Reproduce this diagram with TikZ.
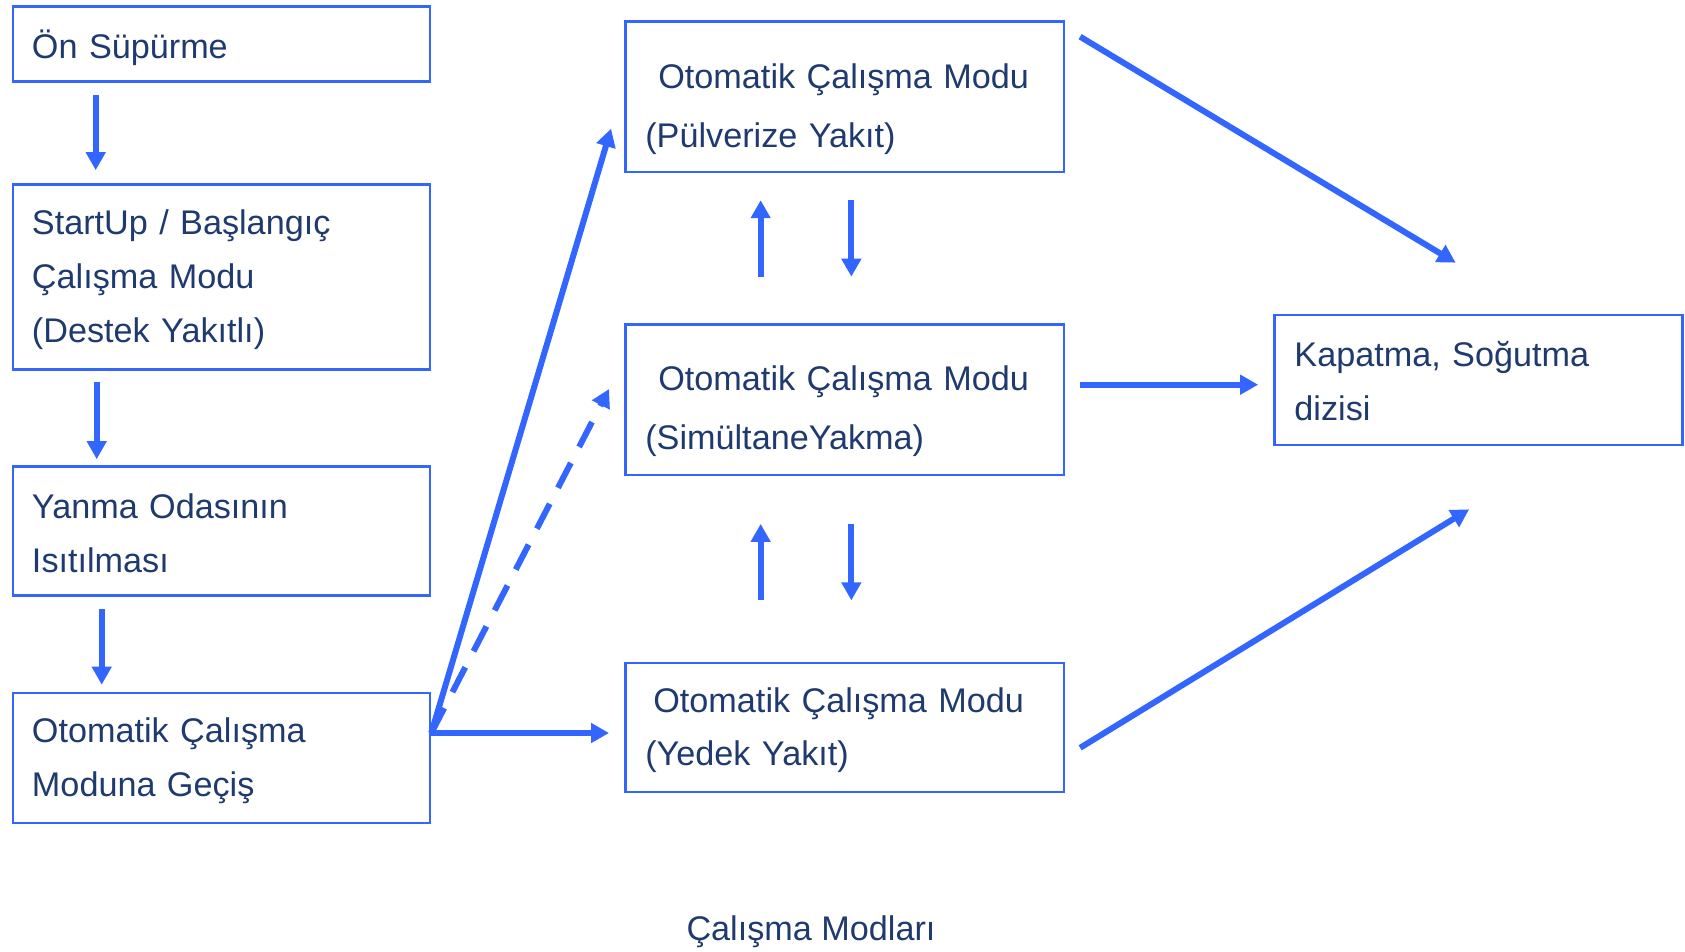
\documentclass[tikz,border=0pt]{standalone}
\usepackage{fontspec}
\setmainfont{Liberation Sans}
\usetikzlibrary{positioning}
\usetikzlibrary{calc}
\usetikzlibrary{arrows.meta}

\definecolor{lineblue}{HTML}{3366FF}
\definecolor{textblue}{HTML}{1F3A6E}

\begin{document}
\begin{tikzpicture}[
x=0.5pt, y=-0.5pt,
font=\fontsize{17.1}{26.9}\selectfont,
every node/.style={text=textblue},
arr/.style={draw=lineblue, line width=3pt, -{Triangle[length=9pt,width=9.5pt]}},
wide/.style={font=\fontsize{17.1}{29.5}\selectfont}
]

\tikzstyle{bx} = [draw=lineblue, line width=1.3pt, align=left, inner xsep=10pt, inner ysep=0pt]
\tikzstyle{lft} = [bx, inner xsep=9.5pt, text width=189.5pt]
\tikzstyle{mid} = [bx, text width=199.25pt]

\useasboundingbox (0,0) rectangle (1685,952);

% left column
\node[lft, minimum height=37.6pt] (pre) at (221.5,44) {\rule{0pt}{18pt}Ön Süpürme};
\node[lft, minimum height=92.5pt] (start) at (221.5,277) {\rule{0pt}{15pt}StartUp / Başlangıç\\Çalışma Modu\\(Destek Yakıtlı)};
\node[lft, minimum height=64.5pt] (heat) at (221.5,531) {\rule{0pt}{14.5pt}Yanma Odasının\\Isıtılması};
\node[lft, minimum height=65pt] (trans) at (221.5,758) {\rule{0pt}{15pt}Otomatik Çalışma\\Moduna Geçiş};

% operating modes
\node[mid, wide, minimum height=75.2pt] (pulv) at (844.6,96.7) {\rule{0pt}{25pt}\hspace*{6.5pt}Otomatik Çalışma Modu\\(Pülverize Yakıt)};
\node[mid, wide, minimum height=75.2pt] (simul) at (844.6,399.7) {\rule{0pt}{23.5pt}\hspace*{6.5pt}Otomatik Çalışma Modu\\(SimültaneYakma)};
\node[mid, minimum height=64.5pt] (spare) at (844.6,727.5) {\rule{0pt}{15pt}\hspace*{4pt}Otomatik Çalışma Modu\\(Yedek Yakıt)};

\node[bx, text width=184.15pt, minimum height=65pt] (stop) at (1478.6,380) {\rule{0pt}{14pt}Kapatma, Soğutma\\dizisi};
\node (cap) at (811,932) {Çalışma Modları};

% sequence
\draw[arr] ($(pre.south west)+(84,12)$) -- ($(start.north west)+(84,-13)$);
\draw[arr] ($(start.south west)+(85,11)$) -- ($(heat.north west)+(85,-6)$);
\draw[arr] ($(heat.south west)+(90,12)$) -- ($(trans.north west)+(90,-7)$);

% switching between modes
\draw[arr] ($(simul.north west)+(136.6,-46.5)$) -- ($(pulv.south west)+(136.6,27)$);
\draw[arr] ($(pulv.south west)+(227.3,27)$) -- ($(simul.north west)+(227.3,-46.5)$);
\draw[arr] ($(spare.north west)+(136.6,-61.3)$) -- ($(simul.south west)+(136.6,47.7)$);
\draw[arr] ($(simul.south west)+(227.3,47.7)$) -- ($(spare.north west)+(227.3,-61.3)$);

% into the modes
\coordinate (fork) at ($(trans.east)+(0,-25)$);
\draw[arr] (fork) -- ($(pulv.west)+(-13,32)$);
\draw[arr, dash pattern=on 14pt off 9pt] (fork) -- ($(simul.west)+(-15,-10.7)$);
\draw[arr] (fork) -- ($(spare.west)+(-15,5.5)$);

% shut down
\draw[arr] ($(pulv.north east)+(15,16.5)$) -- ($(stop.north west)+(182.5,-51)$);
\draw[arr] ($(simul.east)+(15,-15)$) -- ($(stop.west)+(-15,4.7)$);
\draw[arr] ($(spare.south east)+(15,-45.5)$) -- ($(stop.south west)+(196,63)$);
\end{tikzpicture}
\end{document}
